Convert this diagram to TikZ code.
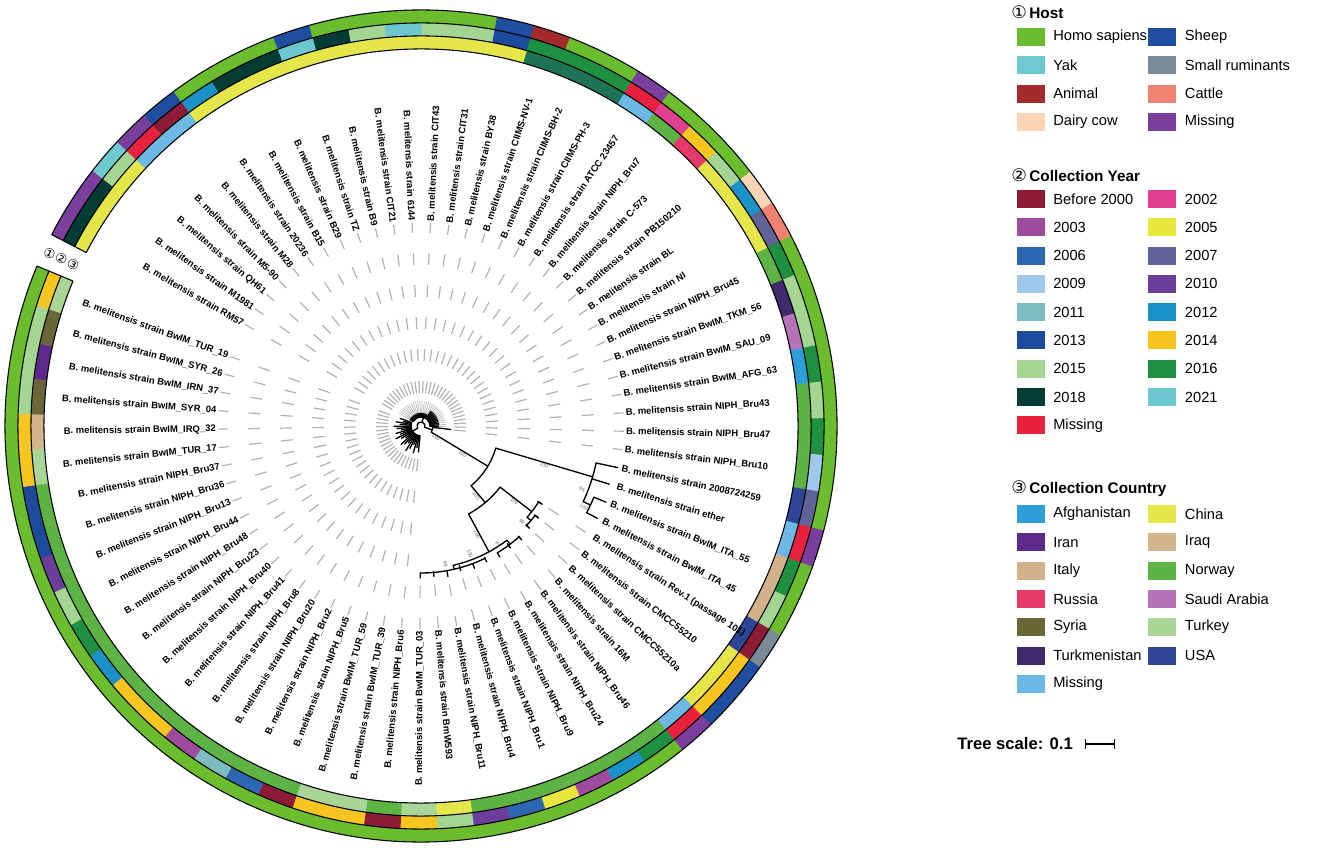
\documentclass[tikz,border=0pt]{standalone}
\usepackage{fontspec}
\setmainfont{Liberation Sans}
\newfontfamily\circfont{DejaVu Sans}
\usetikzlibrary{positioning}

% host
\definecolor{hHomo}{HTML}{6BBD2E}
\definecolor{hYak}{HTML}{6FC9D1}
\definecolor{hAnimal}{HTML}{A32B2B}
\definecolor{hDairy}{HTML}{FAD4B4}
\definecolor{hSheep}{HTML}{1F4EA0}
\definecolor{hSmall}{HTML}{7A8A98}
\definecolor{hCattle}{HTML}{F08272}
\definecolor{hMiss}{HTML}{7A3F9C}
% year
\definecolor{yB2000}{HTML}{8E1B36}
\definecolor{y2002}{HTML}{E2408F}
\definecolor{y2003}{HTML}{9D4C9E}
\definecolor{y2005}{HTML}{E8E73E}
\definecolor{y2006}{HTML}{2D66B1}
\definecolor{y2007}{HTML}{5F6397}
\definecolor{y2009}{HTML}{9FC9EB}
\definecolor{y2010}{HTML}{6B3F99}
\definecolor{y2011}{HTML}{7DBCBF}
\definecolor{y2012}{HTML}{1A92C8}
\definecolor{y2013}{HTML}{1D4A9C}
\definecolor{y2014}{HTML}{F6C51F}
\definecolor{y2015}{HTML}{A5D592}
\definecolor{y2016}{HTML}{1D9140}
\definecolor{y2018}{HTML}{023C35}
\definecolor{y2021}{HTML}{6CC7D0}
\definecolor{yMiss}{HTML}{E8213F}
% country
\definecolor{cAfg}{HTML}{2D9ED9}
\definecolor{cChina}{HTML}{E5E64A}
\definecolor{cIran}{HTML}{5D2A8C}
\definecolor{cIraq}{HTML}{D3B58F}
\definecolor{cItaly}{HTML}{D3B18B}
\definecolor{cNorway}{HTML}{5DB444}
\definecolor{cRussia}{HTML}{E5396A}
\definecolor{cSaudi}{HTML}{B674B6}
\definecolor{cSyria}{HTML}{6B6637}
\definecolor{cTurkey}{HTML}{A9D597}
\definecolor{cTkm}{HTML}{3F2A6C}
\definecolor{cUSA}{HTML}{2F4698}
\definecolor{cMiss}{HTML}{6DB9E6}
\definecolor{cDark}{HTML}{1C7356}

\begin{document}
\begin{tikzpicture}[x=0.75pt, y=0.75pt,
    branch/.style={line width=1pt, line cap=round},
    guide/.style={draw=gray!60, line width=0.9pt, dash pattern=on 9pt off 15pt},
    fan/.style={draw=gray!55, line width=0.5pt},
    ringline/.style={line width=0.8pt},
    leaflabel/.style={font=\bfseries\fontsize{7.1}{8}\selectfont, inner sep=0pt},
    boot/.style={font=\fontsize{3.8}{4}\selectfont, text=black!60, inner sep=0.4pt},
    ringmark/.style={font=\circfont\fontsize{10}{11}\selectfont, inner sep=0pt, rotate=-24.8},
    swatch/.style={minimum width=21pt, minimum height=13.5pt, inner sep=0pt, outer sep=0pt},
    legtext/.style={font=\fontsize{11}{13}\selectfont, inner sep=0pt},
    legtitle/.style={font=\bfseries\fontsize{11.5}{13}\selectfont, inner sep=0pt, anchor=west}]
\useasboundingbox (0,0) rectangle (1325,-848);

\begin{scope}[shift={(421,-426)}]
    % rings: host / year / country
    \foreach \i/\ca/\cb/\cc in {1/hMiss/y2018/cChina, 2/hMiss/y2018/cChina, 3/hYak/y2015/cChina,
        4/hMiss/yMiss/cMiss, 5/hSheep/yB2000/cMiss, 6/hHomo/y2012/cChina, 7/hHomo/y2018/cChina,
        8/hHomo/y2018/cChina, 9/hSheep/y2021/cChina, 10/hHomo/y2018/cChina, 11/hHomo/y2015/cChina,
        12/hHomo/y2021/cChina, 13/hHomo/y2015/cChina, 14/hHomo/y2015/cChina, 15/hSheep/y2013/cChina,
        16/hAnimal/y2016/cDark, 17/hHomo/y2016/cDark, 18/hHomo/y2016/cDark, 19/hMiss/yMiss/cMiss,
        20/hHomo/y2002/cNorway, 21/hHomo/y2014/cRussia, 22/hHomo/y2015/cChina, 23/hDairy/y2012/cChina,
        24/hCattle/y2007/cChina, 25/hHomo/y2016/cNorway, 26/hHomo/y2015/cTkm, 27/hHomo/y2015/cSaudi,
        28/hHomo/y2016/cAfg, 29/hHomo/y2015/cNorway, 30/hHomo/y2016/cNorway, 31/hHomo/y2009/cNorway,
        32/hHomo/y2007/cUSA, 33/hMiss/yMiss/cMiss, 34/hHomo/y2016/cItaly, 35/hHomo/y2015/cItaly,
        36/hSmall/yB2000/cUSA, 37/hSheep/y2014/cChina, 38/hSheep/y2014/cChina, 39/hMiss/yMiss/cMiss,
        40/hHomo/y2016/cNorway, 41/hHomo/y2012/cNorway, 42/hHomo/y2003/cNorway, 43/hHomo/y2005/cNorway,
        44/hHomo/y2006/cNorway, 45/hHomo/y2010/cNorway, 46/hHomo/y2015/cChina, 47/hHomo/y2014/cTurkey,
        48/hHomo/yB2000/cNorway, 49/hHomo/y2014/cTurkey, 50/hHomo/y2014/cTurkey, 51/hHomo/yB2000/cNorway,
        52/hHomo/y2006/cNorway, 53/hHomo/y2011/cNorway, 54/hHomo/y2003/cNorway, 55/hHomo/y2014/cNorway,
        56/hHomo/y2014/cNorway, 57/hHomo/y2012/cNorway, 58/hHomo/y2016/cNorway, 59/hHomo/y2015/cNorway,
        60/hHomo/y2010/cNorway, 61/hHomo/y2013/cNorway, 62/hHomo/y2013/cNorway, 63/hHomo/y2014/cTurkey,
        64/hHomo/y2014/cIraq, 65/hHomo/y2015/cSyria, 66/hHomo/y2015/cIran, 67/hHomo/y2015/cSyria,
        68/hHomo/y2014/cTurkey}{
        \pgfmathsetmacro\aa{152.612-(\i-1)*5.224}
        \pgfmathsetmacro\ab{\aa-5.28}
        \fill[\cc] (\aa:377) arc[start angle=\aa, end angle=\ab, radius=377] -- (\ab:390) arc[start angle=\ab, end angle=\aa, radius=390] -- cycle;
        \fill[\cb] (\aa:390) arc[start angle=\aa, end angle=\ab, radius=390] -- (\ab:403) arc[start angle=\ab, end angle=\aa, radius=403] -- cycle;
        \fill[\ca] (\aa:403) arc[start angle=\aa, end angle=\ab, radius=403] -- (\ab:416) arc[start angle=\ab, end angle=\aa, radius=416] -- cycle;
    }
    \fill[white] (152.612:370) -- (152.612:420) arc[start angle=152.612, end angle=157.4, radius=420] -- (157.4:370) -- cycle;
    \foreach \r in {377,390,403,416}
        \draw[ringline] (152.612:\r) arc[start angle=152.612, end angle=-202.612, radius=\r];
    \draw[ringline] (152.612:377) -- (152.612:416);
    \draw[ringline] (-202.612:377) -- (-202.612:416);
    \node[ringmark] (ringC) at (155.1:383.5) {③};
    \node[ringmark] (ringB) at (155.1:396.5) {②};
    \node[ringmark] (ringA) at (155.1:409.5) {①};

    % leaf labels
    \foreach \i/\s in {1/RM57, 2/M1981, 3/QH61, 4/M5-90, 5/M28, 6/20236, 7/B15, 8/B29, 9/TZ, 10/B9,
        11/CIT21, 12/6144, 13/CIT43, 14/CIT31, 15/BY38, 16/CIIMS-NV-1, 17/CIIMS-BH-2, 18/CIIMS-PH-3,
        19/ATCC 23457, 20/NIPH\_Bru7, 21/C-573, 22/PB150210, 23/BL, 24/NI, 25/NIPH\_Bru45,
        26/BwIM\_TKM\_56, 27/BwIM\_SAU\_09, 28/BwIM\_AFG\_63, 29/NIPH\_Bru43, 30/NIPH\_Bru47,
        31/NIPH\_Bru10, 32/2008724259, 33/ether, 34/BwIM\_ITA\_55, 35/BwIM\_ITA\_45,
        36/Rev.1 (passage 101), 37/CMCC55210, 38/CMCC55210a, 39/16M, 40/NIPH\_Bru46, 41/NIPH\_Bru24,
        42/NIPH\_Bru9, 43/NIPH\_Bru1, 44/NIPH\_Bru4, 45/NIPH\_Bru11, 46/BmW593, 47/BwIM\_TUR\_03,
        48/NIPH\_Bru6, 49/BwIM\_TUR\_39, 50/BwIM\_TUR\_59, 51/NIPH\_Bru5, 52/NIPH\_Bru2, 53/NIPH\_Bru20,
        54/NIPH\_Bru8, 55/NIPH\_Bru41, 56/NIPH\_Bru40, 57/NIPH\_Bru23, 58/NIPH\_Bru48, 59/NIPH\_Bru44,
        60/NIPH\_Bru13, 61/NIPH\_Bru36, 62/NIPH\_Bru37, 63/BwIM\_TUR\_17, 64/BwIM\_IRQ\_32,
        65/BwIM\_SYR\_04, 66/BwIM\_IRN\_37, 67/BwIM\_SYR\_26, 68/BwIM\_TUR\_19}{
        \pgfmathsetmacro\a{150-(\i-1)*5.224}
        \pgfmathsetmacro\b{\a+180}
        \pgfmathtruncatemacro\side{cos(\a)>0}
        \ifnum\side=1
            \node[leaflabel, anchor=west, rotate=\a] (lab\i) at (\a:205) {B. melitensis strain \s};
        \else
            \node[leaflabel, anchor=east, rotate=\b] (lab\i) at (\a:205) {B. melitensis strain \s};
        \fi
    }

    % central cluster
    \draw[branch] (-19:4) arc[start angle=-19, end angle=212.2, radius=4];
    \draw[branch] (74:4) -- (74:9);
    \draw[branch] (212.2:4) -- (212.2:10);
    \draw[branch] (-19:4) -- (-19:12);
    \draw[branch] (-1.5:9) arc[start angle=-1.5, end angle=150, radius=9];
    \draw[branch] (160:10) arc[start angle=160, end angle=264.47, radius=10];
    \foreach \i in {1,...,30}{
        \pgfmathsetmacro\a{150-(\i-1)*5.224}
        \pgfmathsetmacro\t{\i>18 ? 18 : 13}
        \draw[branch] (\a:9) -- (\a:\t);
        \draw[fan] (\a:\t) -- (\a:25);
        \draw[guide] (\a:33) -- (\a:203);
    }
    \foreach \i/\t in {48/26, 49/22, 50/28, 51/20, 52/25, 53/29, 54/21, 55/24, 56/27, 57/19, 58/23,
        59/28, 60/22, 61/26, 62/20, 63/24, 64/27, 65/21, 66/25, 67/18, 68/22}{
        \pgfmathsetmacro\a{150-(\i-1)*5.224}
        \draw[branch] (\a:10) -- (\a:\t);
        \draw[guide] (\a:33) -- (\a:203);
    }
    \draw[branch] (-105:16) arc[start angle=-105, end angle=-125, radius=16];
    \draw[branch] (-150:14) arc[start angle=-150, end angle=-172, radius=14];

    % outgroup clades
    \draw[branch] (-31:12) arc[start angle=-31, end angle=-6.72, radius=12];
    \draw[branch] (-6.72:12) -- (-6.72:30);
    \draw[guide] (-6.72:33) -- (-6.72:203);
    \draw[branch] (-31:12) -- (-31:78);
    \draw[branch] (-50:78) arc[start angle=-50, end angle=-16.5, radius=78];
    \draw[branch] (-16.5:78) -- (-16.5:179);
    \draw[branch] (-25:179) arc[start angle=-25, end angle=-11.94, radius=179];
    \draw[branch] (-11.94:179) -- (-11.94:201);
    \draw[branch] (-17.17:179) -- (-17.17:197);
    \draw[branch] (-25:179) -- (-25:187);
    \draw[branch] (-27.62:187) arc[start angle=-27.62, end angle=-22.39, radius=187];
    \draw[branch] (-22.39:187) -- (-22.39:200);
    \draw[branch] (-27.62:187) -- (-27.62:199);
    \draw[branch] (-50:78) -- (-50:100);
    \draw[branch] (-61.6:100) arc[start angle=-61.6, end angle=-37.7, radius=100];
    \draw[branch] (-37.7:100) -- (-37.7:140);
    \draw[branch] (-40.7:140) arc[start angle=-40.7, end angle=-32.84, radius=140];
    \draw[branch] (-32.84:140) -- (-32.84:144);
    \draw[branch] (-40.7:140) -- (-40.7:145);
    \draw[branch] (-43.29:145) arc[start angle=-43.29, end angle=-38.06, radius=145];
    \draw[branch] (-38.06:145) -- (-38.06:149);
    \draw[branch] (-43.29:145) -- (-43.29:149);
    \draw[branch] (-61.6:100) -- (-61.6:143);
    \draw[branch] (-77:143) arc[start angle=-77, end angle=-53, radius=143];
    \draw[branch] (-53:143) -- (-53:148);
    \draw[branch] (-58.96:148) arc[start angle=-58.96, end angle=-48.51, radius=148];
    \draw[branch] (-77:143) -- (-77:147);
    \draw[branch] (-90.3:147) arc[start angle=-90.3, end angle=-64.18, radius=147];
    \foreach \i/\t in {36/144, 37/149, 38/149, 39/152, 40/151, 41/153, 42/151, 43/152, 44/150,
        45/153, 46/151, 47/152}{
        \pgfmathsetmacro\a{150-(\i-1)*5.224}
        \draw[branch] (\a:\t-5) -- (\a:\t);
        \draw[guide] (\a:\t+8) -- (\a:203);
    }

    % bootstrap values
    \node[boot, rotate=-31] (bs1) at (-37:19) {100};
    \node[boot, rotate=-31, anchor=north] (bs2) at (-31:50) {100};
    \node[boot, rotate=-16.5, anchor=north] (bs3) at (-16.5:129) {100};
    \node[boot, rotate=-50, anchor=north] (bs4) at (-50:89) {100};
    \node[boot, rotate=-37.7, anchor=north] (bs5) at (-37.7:120) {100};
    \node[boot, rotate=-61.6, anchor=north] (bs6) at (-61.6:122) {100};
    \node[boot, rotate=-22] (bs7) at (-21.5:173) {95};
    \node[boot, rotate=-26] (bs8) at (-26.5:182) {100};
    \node[boot, rotate=-43] (bs9) at (-43.5:139) {95};
    \node[boot, rotate=-57] (bs10) at (-57:141) {95};
    \node[boot, rotate=-69] (bs11) at (-69:137) {100};
    \node[boot, rotate=-80] (bs12) at (-80:140) {99};
\end{scope}

% legend
\node[legtitle] (hosthead) at (1011,-12) {{\circfont\mdseries\fontsize{13}{13}\selectfont ①}\,Host};
\foreach \c/\t [count=\k] in {hHomo/Homo sapiens, hYak/Yak, hAnimal/Animal, hDairy/Dairy cow}{
    \node[swatch, fill=\c] (hostA\k) at (1031,{-37-(\k-1)*28.3}) {};
    \node[legtext, right=6pt of hostA\k] (hostAt\k) {\t};
}
\foreach \c/\t [count=\k] in {hSheep/Sheep, hSmall/Small ruminants, hCattle/Cattle, hMiss/Missing}{
    \node[swatch, fill=\c] (hostB\k) at (1162,{-37-(\k-1)*28.3}) {};
    \node[legtext, right=6.5pt of hostB\k] (hostBt\k) {\t};
}
\node[legtitle] (yearhead) at (1011,-175) {{\circfont\mdseries\fontsize{13}{13}\selectfont ②}\,Collection Year};
\foreach \c/\t [count=\k] in {yB2000/Before 2000, y2003/2003, y2006/2006, y2009/2009, y2011/2011,
    y2013/2013, y2015/2015, y2018/2018, yMiss/Missing}{
    \node[swatch, fill=\c] (yearA\k) at (1031,{-199-(\k-1)*28.3}) {};
    \node[legtext, right=6pt of yearA\k] (yearAt\k) {\t};
}
\foreach \c/\t [count=\k] in {y2002/2002, y2005/2005, y2007/2007, y2010/2010, y2012/2012,
    y2014/2014, y2016/2016, y2021/2021}{
    \node[swatch, fill=\c] (yearB\k) at (1162,{-199-(\k-1)*28.3}) {};
    \node[legtext, right=6.5pt of yearB\k] (yearBt\k) {\t};
}
\node[legtitle] (ctryhead) at (1011,-489) {{\circfont\mdseries\fontsize{13}{13}\selectfont ③}\,Collection Country};
\foreach \c/\t [count=\k] in {cAfg/Afghanistan, cIran/Iran, cItaly/Italy, cRussia/Russia,
    cSyria/Syria, cTkm/Turkmenistan, cMiss/Missing}{
    \node[swatch, fill=\c] (ctryA\k) at (1031,{-514-(\k-1)*28.3}) {};
    \node[legtext, right=6pt of ctryA\k] (ctryAt\k) {\t};
}
\foreach \c/\t [count=\k] in {cChina/China, cIraq/Iraq, cNorway/Norway, cSaudi/Saudi Arabia,
    cTurkey/Turkey, cUSA/USA}{
    \node[swatch, fill=\c] (ctryB\k) at (1162,{-514-(\k-1)*28.3}) {};
    \node[legtext, right=6.5pt of ctryB\k] (ctryBt\k) {\t};
}

% tree scale
\node[font=\bfseries\fontsize{12.5}{14}\selectfont, inner sep=0pt, anchor=west] (scaletxt) at (957,-744) {Tree scale: 0.1};
\coordinate (sbL) at (1085,-744);
\coordinate (sbR) at (1115,-744);
\draw[|-|, line width=1pt] (sbL) -- (sbR);
\end{tikzpicture}
\end{document}
